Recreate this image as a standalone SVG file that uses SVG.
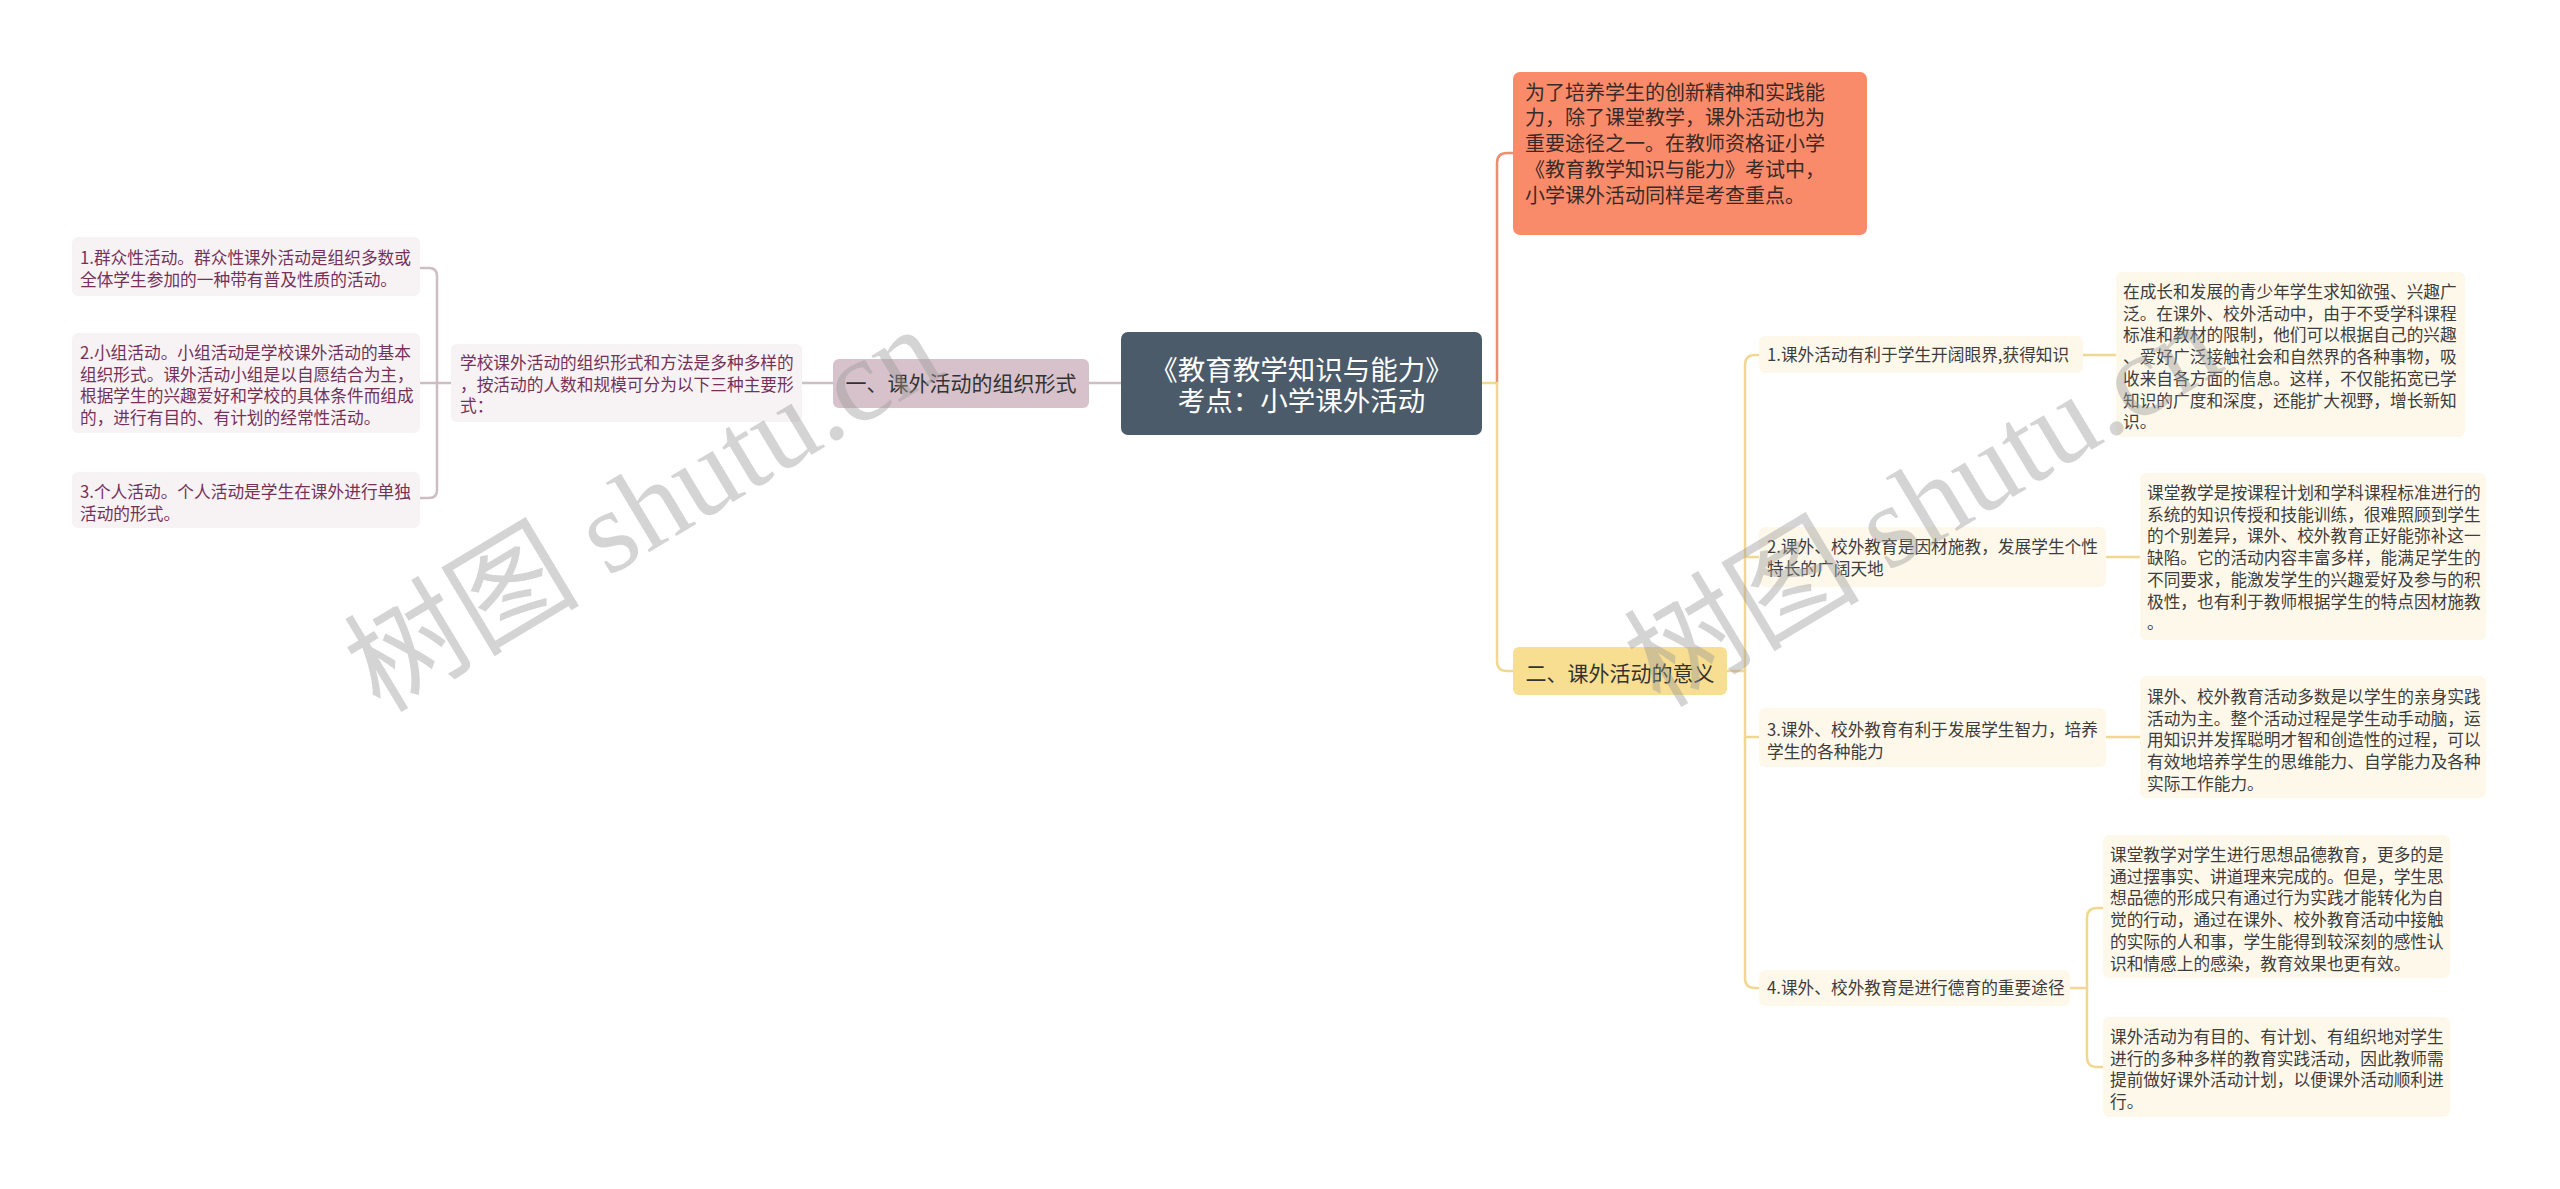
<svg xmlns="http://www.w3.org/2000/svg" width="2560" height="1189" viewBox="0 0 2560 1189">
<style>
text{font-family:"Noto Sans CJK SC","Noto Sans",sans-serif}
.c{fill:none;stroke-width:2.5;stroke-linecap:round}
.cl{stroke:#cdbdc4}
.co{stroke:#f08d70}
.cy{stroke:#f1d891}
.leafL{fill:#f7f2f4}
.leafR{fill:#fdf8ea}
.tL{font-size:16.7px;fill:#74325a}
.tR{font-size:16.7px;fill:#3d3d3d}
.wm{font-family:"Liberation Serif","Noto Sans CJK SC",serif;font-size:118px;fill:#9a9a9a;opacity:0.42}
</style>
<rect width="2560" height="1189" fill="#ffffff"/>
<g id="connectors">
<path class="c cl" d="M1089,383 H1121"/>
<path class="c cl" d="M802,383 H833"/>
<path class="c cl" d="M420,383 H451"/>
<path class="c cl" d="M420,268 H429 Q437,268 437,276 V490 Q437,498 429,498 H420"/>
<path class="c cy" d="M1481,383 H1497"/>
<path class="c co" d="M1497,383 V163 Q1497,153 1507,153 H1513"/>
<path class="c cy" d="M1497,383 V661 Q1497,671 1507,671 H1513"/>
<path class="c cy" d="M1727,671 H1745"/>
<path class="c cy" d="M1759,355 H1755 Q1745,355 1745,365 V978 Q1745,988 1755,988 H1759"/>
<path class="c cy" d="M1745,557 H1759"/>
<path class="c cy" d="M1745,737 H1759"/>
<path class="c cy" d="M2083,355 H2116"/>
<path class="c cy" d="M2106,557 H2140"/>
<path class="c cy" d="M2106,737 H2140"/>
<path class="c cy" d="M2070,988 H2087"/>
<path class="c cy" d="M2103,908 H2097 Q2087,908 2087,918 V1057 Q2087,1067 2097,1067 H2103"/>
</g>
<g id="root">
<rect x="1121" y="332" width="361" height="103" rx="7" fill="#4b5b6a"/>
<text text-anchor="middle" font-size="27.5" fill="#ffffff"><tspan x="1301.5" y="380">《教育教学知识与能力》</tspan><tspan x="1301.5" y="411">考点：小学课外活动</tspan></text>
</g>
<g id="n-org">
<rect x="833" y="359" width="256" height="49" rx="6" fill="#d7c2cb"/>
<text x="961" y="391" text-anchor="middle" font-size="21" fill="#333333">一、课外活动的组织形式</text>
</g>
<g id="n-org-desc">
<rect x="451" y="344" width="351" height="78" rx="6" class="leafL"/>
<text class="tL"><tspan x="460" y="369">学校课外活动的组织形式和方法是多种多样的</tspan><tspan x="460" y="390.7">，按活动的人数和规模可分为以下三种主要形</tspan><tspan x="460" y="412.4">式：</tspan></text>
</g>
<g id="n-org-1">
<rect x="72" y="237" width="348" height="59" rx="6" class="leafL"/>
<text class="tL"><tspan x="80" y="264">1.群众性活动。群众性课外活动是组织多数或</tspan><tspan x="80" y="285.7">全体学生参加的一种带有普及性质的活动。</tspan></text>
</g>
<g id="n-org-2">
<rect x="72" y="333" width="348" height="100" rx="6" class="leafL"/>
<text class="tL"><tspan x="80" y="359">2.小组活动。小组活动是学校课外活动的基本</tspan><tspan x="80" y="380.7">组织形式。课外活动小组是以自愿结合为主，</tspan><tspan x="80" y="402.4">根据学生的兴趣爱好和学校的具体条件而组成</tspan><tspan x="80" y="424.1">的，进行有目的、有计划的经常性活动。</tspan></text>
</g>
<g id="n-org-3">
<rect x="72" y="472" width="348" height="56" rx="6" class="leafL"/>
<text class="tL"><tspan x="80" y="498">3.个人活动。个人活动是学生在课外进行单独</tspan><tspan x="80" y="519.7">活动的形式。</tspan></text>
</g>
<g id="n-intro">
<rect x="1513" y="72" width="354" height="163" rx="7" fill="#f98b6b"/>
<text font-size="20" fill="#3a2a26"><tspan x="1525" y="99.5">为了培养学生的创新精神和实践能</tspan><tspan x="1525" y="125.3">力，除了课堂教学，课外活动也为</tspan><tspan x="1525" y="151.1">重要途径之一。在教师资格证小学</tspan><tspan x="1525" y="176.9">《教育教学知识与能力》考试中，</tspan><tspan x="1525" y="202.7">小学课外活动同样是考查重点。</tspan></text>
</g>
<g id="n-meaning">
<rect x="1513" y="647" width="214" height="48" rx="6" fill="#f8de91"/>
<text x="1620" y="680.5" text-anchor="middle" font-size="21" fill="#333333">二、课外活动的意义</text>
</g>
<g id="n-m1">
<rect x="1759" y="336" width="324" height="37" rx="6" class="leafR"/>
<text class="tR" x="1767" y="361">1.课外活动有利于学生开阔眼界,获得知识</text>
</g>
<g id="n-m1-d">
<rect x="2116" y="272" width="349" height="165" rx="6" class="leafR"/>
<text class="tR"><tspan x="2123" y="298">在成长和发展的青少年学生求知欲强、兴趣广</tspan><tspan x="2123" y="319.7">泛。在课外、校外活动中，由于不受学科课程</tspan><tspan x="2123" y="341.4">标准和教材的限制，他们可以根据自己的兴趣</tspan><tspan x="2123" y="363.1">、爱好广泛接触社会和自然界的各种事物，吸</tspan><tspan x="2123" y="384.8">收来自各方面的信息。这样，不仅能拓宽已学</tspan><tspan x="2123" y="406.5">知识的广度和深度，还能扩大视野，增长新知</tspan><tspan x="2123" y="428.2">识。</tspan></text>
</g>
<g id="n-m2">
<rect x="1759" y="527" width="347" height="60" rx="6" class="leafR"/>
<text class="tR"><tspan x="1767" y="553">2.课外、校外教育是因材施教，发展学生个性</tspan><tspan x="1767" y="574.7">特长的广阔天地</tspan></text>
</g>
<g id="n-m2-d">
<rect x="2140" y="473" width="346" height="167" rx="6" class="leafR"/>
<text class="tR"><tspan x="2147" y="499">课堂教学是按课程计划和学科课程标准进行的</tspan><tspan x="2147" y="520.7">系统的知识传授和技能训练，很难照顾到学生</tspan><tspan x="2147" y="542.4">的个别差异，课外、校外教育正好能弥补这一</tspan><tspan x="2147" y="564.1">缺陷。它的活动内容丰富多样，能满足学生的</tspan><tspan x="2147" y="585.8">不同要求，能激发学生的兴趣爱好及参与的积</tspan><tspan x="2147" y="607.5">极性，也有利于教师根据学生的特点因材施教</tspan><tspan x="2147" y="629.2">。</tspan></text>
</g>
<g id="n-m3">
<rect x="1759" y="708" width="347" height="59" rx="6" class="leafR"/>
<text class="tR"><tspan x="1767" y="736">3.课外、校外教育有利于发展学生智力，培养</tspan><tspan x="1767" y="757.7">学生的各种能力</tspan></text>
</g>
<g id="n-m3-d">
<rect x="2140" y="676" width="346" height="122" rx="6" class="leafR"/>
<text class="tR"><tspan x="2147" y="703">课外、校外教育活动多数是以学生的亲身实践</tspan><tspan x="2147" y="724.7">活动为主。整个活动过程是学生动手动脑，运</tspan><tspan x="2147" y="746.4">用知识并发挥聪明才智和创造性的过程，可以</tspan><tspan x="2147" y="768.1">有效地培养学生的思维能力、自学能力及各种</tspan><tspan x="2147" y="789.8">实际工作能力。</tspan></text>
</g>
<g id="n-m4">
<rect x="1759" y="970" width="311" height="36" rx="6" class="leafR"/>
<text class="tR" x="1767" y="994">4.课外、校外教育是进行德育的重要途径</text>
</g>
<g id="n-m4-a">
<rect x="2103" y="835" width="347" height="143" rx="6" class="leafR"/>
<text class="tR"><tspan x="2110" y="861">课堂教学对学生进行思想品德教育，更多的是</tspan><tspan x="2110" y="882.7">通过摆事实、讲道理来完成的。但是，学生思</tspan><tspan x="2110" y="904.4">想品德的形成只有通过行为实践才能转化为自</tspan><tspan x="2110" y="926.1">觉的行动，通过在课外、校外教育活动中接触</tspan><tspan x="2110" y="947.8">的实际的人和事，学生能得到较深刻的感性认</tspan><tspan x="2110" y="969.5">识和情感上的感染，教育效果也更有效。</tspan></text>
</g>
<g id="n-m4-b">
<rect x="2103" y="1017" width="347" height="100" rx="6" class="leafR"/>
<text class="tR"><tspan x="2110" y="1043">课外活动为有目的、有计划、有组织地对学生</tspan><tspan x="2110" y="1064.7">进行的多种多样的教育实践活动，因此教师需</tspan><tspan x="2110" y="1086.4">提前做好课外活动计划，以便课外活动顺利进</tspan><tspan x="2110" y="1108.1">行。</tspan></text>
</g>
<g id="watermark">
<text class="wm" transform="translate(380,714) rotate(-31)">树图 shutu.cn</text>
<text class="wm" transform="translate(1660,709) rotate(-31)">树图 shutu.cn</text>
</g>
</svg>
